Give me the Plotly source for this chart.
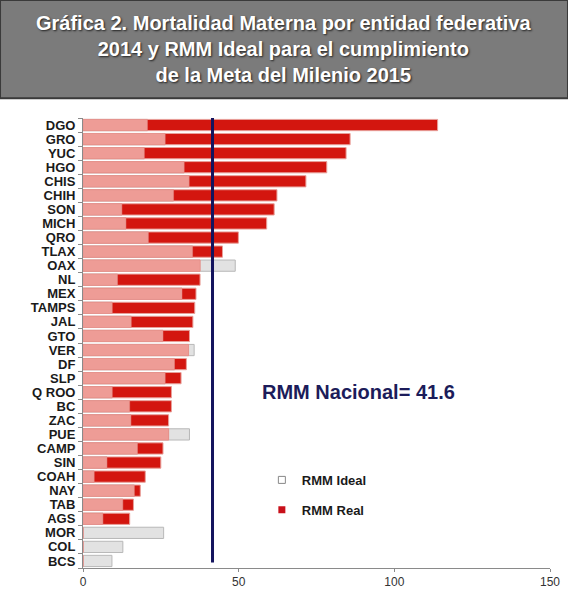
import numpy as np
import plotly.graph_objects as go

states = ["DGO", "GRO", "YUC", "HGO", "CHIS", "CHIH", "SON", "MICH", "QRO", "TLAX",
          "OAX", "NL", "MEX", "TAMPS", "JAL", "GTO", "VER", "DF", "SLP", "Q ROO",
          "BC", "ZAC", "PUE", "CAMP", "SIN", "COAH", "NAY", "TAB", "AGS", "MOR",
          "COL", "BCS"]
rmm_real = [113.9, 85.8, 84.5, 78.3, 71.6, 62.3, 61.4, 59.0, 49.9, 44.8,
            37.6, 37.6, 36.3, 35.9, 35.3, 34.2, 33.9, 33.2, 31.5, 28.4,
            28.4, 27.5, 27.5, 25.7, 25.0, 20.0, 18.4, 16.2, 15.0, 0.0,
            0.0, 0.0]
rmm_ideal = [20.7, 26.4, 19.7, 32.5, 34.1, 29.1, 12.5, 13.8, 21.0, 35.2,
             48.9, 11.1, 31.8, 9.4, 15.5, 25.7, 35.7, 29.4, 26.4, 9.4,
             15.0, 15.4, 34.2, 17.5, 7.7, 3.6, 16.5, 12.8, 6.4, 25.9,
             12.8, 9.3]
rmm_nacional = 41.6
x_ticks = [0, 50, 100, 150]

overlap = np.minimum(np.array(rmm_real), np.array(rmm_ideal))

FONT = "Arial, Liberation Sans, sans-serif"

fig = go.Figure()
fig.add_trace(go.Bar(
    y=states, x=rmm_ideal, orientation="h", name="RMM Ideal", showlegend=False,
    marker=dict(color="#e2e2e2", line=dict(color="#b8b8b8", width=1)),
    hoverinfo="x+y"))
fig.add_trace(go.Bar(
    y=states, x=rmm_real, orientation="h", name="RMM Real", showlegend=False,
    marker=dict(color="#d3160f", line=dict(color="#e8a09a", width=1)),
    hoverinfo="x+y"))
fig.add_trace(go.Bar(
    y=states, x=overlap, orientation="h", name="overlap", showlegend=False,
    marker=dict(color="#ee9c96", line=dict(color="#e08a85", width=0.5)),
    hoverinfo="skip"))

# legend entries (small square symbols as in the reference)
fig.add_trace(go.Scatter(x=[None], y=[None], mode="markers", name="RMM Ideal",
                         marker=dict(symbol="square", size=7, color="white",
                                     line=dict(color="#888", width=1)),
                         legendgroup="a"))
fig.add_trace(go.Scatter(x=[None], y=[None], mode="markers", name="RMM Real",
                         marker=dict(symbol="square", size=7, color="#c8101a",
                                     line=dict(width=0)),
                         legendgroup="b"))

fig.add_shape(type="line", xref="x", yref="paper", x0=rmm_nacional, x1=rmm_nacional,
              y0=0.012, y1=1.0, line=dict(color="#14145e", width=3), layer="above")

# Title box
fig.add_shape(type="rect", xref="paper", yref="paper",
              x0=-0.1777, x1=1.0385, y0=1.044, y1=1.262,
              fillcolor="#7b7b7b", line=dict(color="#3a3a3a", width=2), layer="below")
title_lines = ["Gráfica 2. Mortalidad Materna por entidad federativa",
               "2014 y RMM Ideal para el cumplimiento",
               "de la Meta del Milenio 2015"]
fig.add_annotation(xref="paper", yref="paper", x=0.430, y=1.153,
                   text="<br>".join(title_lines), showarrow=False,
                   font=dict(family=FONT, size=20, color="white",
                             weight="bold", shadow="1px 1px 2px #222"),
                   align="center", xanchor="center", yanchor="middle")

fig.add_annotation(xref="paper", yref="paper", x=0.589, y=0.391,
                   text="RMM Nacional= 41.6", showarrow=False,
                   font=dict(family=FONT, size=20, color="#1c1c5a", weight="bold"),
                   xanchor="center", yanchor="middle")

fig.update_layout(
    width=568, height=592,
    margin=dict(l=83, r=18, t=118, b=24, autoexpand=False),
    paper_bgcolor="white", plot_bgcolor="white",
    barmode="overlay", bargap=0.2,
    showlegend=True,
    legend=dict(x=0.383, y=0.229, xanchor="left", yanchor="top",
                font=dict(family=FONT, size=13, color="#1a1a1a", weight="bold"),
                tracegroupgap=10, bgcolor="rgba(0,0,0,0)", itemwidth=30),
    xaxis=dict(range=[0, 150], tickvals=x_ticks, showgrid=False, zeroline=False,
               showline=True, linecolor="#8a8a8a", linewidth=1, automargin=False,
               ticks="outside", ticklen=3, tickcolor="#8a8a8a",
               tickfont=dict(family=FONT, size=12, color="#333")),
    yaxis=dict(categoryorder="array", categoryarray=states, autorange="reversed",
               tickmode="array", tickvals=states, ticktext=states, automargin=False,
               showgrid=False, zeroline=False, showline=True, linecolor="#8a8a8a",
               linewidth=1, ticks="outside", ticklen=4, tickcolor="#8a8a8a",
               tickson="boundaries", ticklabelstandoff=4,
               tickfont=dict(family=FONT, size=13, color="#1a1a1a", weight="bold")),
    font=dict(family=FONT),
)

fig.write_html("out.html",
               config={"displayModeBar": False},
               post_script="document.body.style.margin='0';"
                           "document.body.style.overflow='hidden';")
